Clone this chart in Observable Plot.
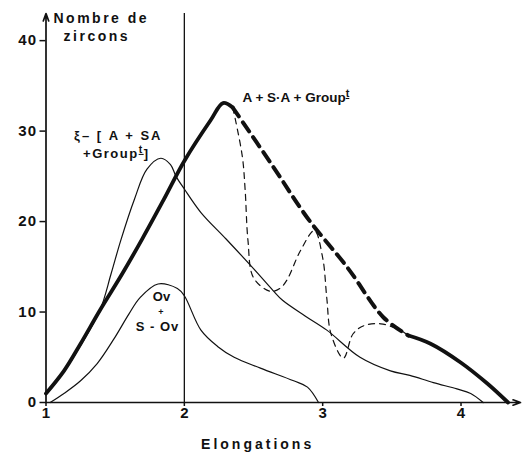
<!DOCTYPE html>
<html><head><meta charset="utf-8">
<script src="https://cdn.jsdelivr.net/npm/d3@7"></script>
<script src="https://cdn.jsdelivr.net/npm/@observablehq/plot@0.6"></script>
<style>
html,body{margin:0;padding:0;background:#fff}
#chart svg text{font-family:"Liberation Sans",Arial,Helvetica,sans-serif;font-weight:bold}
g.sp25 text{letter-spacing:2.5px}
g.sp2 text{letter-spacing:2px}
g.sp15 text{letter-spacing:1.5px}
g.sp1 text{letter-spacing:1px}
g.sp3 text{letter-spacing:3px}
</style></head><body><div id="chart"></div>
<script>
// ---- data ----
const xTicks = [1, 2, 3, 4];
const yTicks = [0, 10, 20, 30, 40];

// A + S·A + Group^t : rising solid part
const totalRiseX = [1.0, 1.13, 1.25, 1.39, 1.55, 1.70, 1.85, 2.0, 2.19, 2.28, 2.35];
const totalRiseY = [1.0, 3.5, 6.5, 10.2, 14.2, 18.2, 22.4, 26.7, 31.2, 33.1, 32.6];
// A + S·A + Group^t : thick dashed part
const totalDashX = [2.35, 2.645, 2.89, 3.18, 3.44, 3.62];
const totalDashY = [32.6, 26.0, 20.4, 14.9, 9.4, 7.4];
// A + S·A + Group^t : solid tail
const totalTailX = [3.62, 3.78, 4.0, 4.19, 4.34];
const totalTailY = [7.4, 6.5, 4.4, 2.1, 0];
// thin dashed alternative
const altDashX = [2.35, 2.37, 2.42, 2.44, 2.46, 2.50, 2.62, 2.69, 2.74, 2.84, 2.94, 3.0, 3.03, 3.06, 3.15, 3.22, 3.30, 3.42, 3.56, 3.62];
const altDashY = [32.6, 31.2, 27.1, 23.4, 17.9, 13.8, 12.3, 12.6, 13.5, 16.8, 19.0, 16.0, 11.5, 7.6, 4.9, 7.6, 8.5, 8.7, 8.0, 7.4];
// Σ – [A+SA+Group^t]
const sigmaX = [1.0, 1.13, 1.25, 1.39, 1.47, 1.54, 1.64, 1.73, 1.83, 1.9, 1.94, 2.0, 2.12, 2.30, 2.5, 2.64, 2.71, 2.87, 3.03, 3.27, 3.49, 3.63, 3.80, 3.97, 4.07, 4.16];
const sigmaY = [1.0, 3.4, 6.3, 10.2, 14.2, 17.9, 22.5, 25.8, 27.0, 26.3, 25.0, 23.6, 21.0, 18.1, 14.8, 12.4, 11.3, 9.6, 8.0, 5.0, 3.5, 3.0, 2.2, 1.5, 1.0, 0];
// Ov + S-Ov
const ovX = [1.03, 1.13, 1.25, 1.37, 1.49, 1.60, 1.68, 1.81, 1.95, 2.0, 2.12, 2.24, 2.36, 2.55, 2.79, 2.89, 2.97];
const ovY = [0, 1.0, 2.4, 4.3, 7.0, 9.8, 11.6, 13.1, 12.6, 11.8, 8.0, 6.2, 5.0, 3.8, 2.4, 1.7, 0];

const xDomain = [1, 4.43];
const yDomain = [0, 43];

const rows = (xs, ys) => xs.map((x, i) => ({x, y: ys[i]}));
const ink = "#111";

const chart = Plot.plot({
  width: 524, height: 455,
  marginLeft: 45.5, marginRight: 4, marginTop: 13, marginBottom: 53,
  x: {domain: xDomain, axis: null},
  y: {domain: yDomain, axis: null},
  style: {background: "white", color: ink, fontFamily: "Liberation Sans, Arial, sans-serif"},
  marks: [
    Plot.axisY(yTicks, {anchor: "left", tickSize: 6, tickPadding: 3, fontSize: 15, fontWeight: "bold", strokeWidth: 1.5, label: null, tickFormat: d3.format("d"), className: "sp1"}),
    Plot.axisX(xTicks, {anchor: "bottom", tickSize: 4, tickPadding: 1, fontSize: 15, fontWeight: "bold", strokeWidth: 1.5, label: null, tickFormat: d3.format("d")}),
    Plot.ruleX([2], {y1: yDomain[0], y2: yDomain[1], stroke: ink, strokeWidth: 1.3}),
    Plot.arrow([{x1: xDomain[0], y1: 0, x2: xDomain[0], y2: yDomain[1]}], {x1: "x1", y1: "y1", x2: "x2", y2: "y2", stroke: ink, strokeWidth: 1.7, headLength: 7, headAngle: 40}),
    Plot.arrow([{x1: xDomain[0], y1: 0, x2: xDomain[1], y2: 0}], {x1: "x1", y1: "y1", x2: "x2", y2: "y2", stroke: ink, strokeWidth: 1.7, headLength: 7, headAngle: 40}),
    Plot.line(rows(ovX, ovY), {x: "x", y: "y", curve: "catmull-rom", stroke: ink, strokeWidth: 1.2}),
    Plot.line(rows(sigmaX, sigmaY), {x: "x", y: "y", curve: "catmull-rom", stroke: ink, strokeWidth: 1.2}),
    Plot.line(rows(altDashX, altDashY), {x: "x", y: "y", curve: "catmull-rom", stroke: ink, strokeWidth: 1.2, strokeDasharray: "6,5"}),
    Plot.line(rows(totalDashX, totalDashY), {x: "x", y: "y", curve: "catmull-rom", stroke: ink, strokeWidth: 4, strokeDasharray: "11,7"}),
    Plot.line(rows(totalRiseX, totalRiseY), {x: "x", y: "y", curve: "catmull-rom", stroke: ink, strokeWidth: 3.8, strokeLinecap: "round"}),
    Plot.line(rows(totalTailX, totalTailY), {x: "x", y: "y", curve: "catmull-rom", stroke: ink, strokeWidth: 3.8}),
    // texts
    Plot.text(["Nombre de"], {x: 1.054, y: 42.45, textAnchor: "start", fontSize: 14, fill: ink, className: "sp25"}),
    Plot.text(["zircons"], {x: 1.127, y: 40.45, textAnchor: "start", fontSize: 14, fill: ink, className: "sp25"}),
    Plot.text(["A + S·A + Group|t"], {x: 2.42, y: 33.7, textAnchor: "start", fontSize: 13.5, fill: ink, className: "sup"}),
    Plot.text(["ξ– [ A + SA"], {x: 1.842, y: 29.5, textAnchor: "end", fontSize: 13, fill: ink, className: "sp2"}),
    Plot.text(["+Group|t|]"], {x: 1.748, y: 27.5, textAnchor: "end", fontSize: 13, fill: ink, className: "sup sp15"}),
    Plot.text(["Ov"], {x: 1.835, y: 11.65, fontSize: 13, fill: ink}),
    Plot.text(["+"], {x: 1.83, y: 10.0, fontSize: 9, fill: ink}),
    Plot.text(["S - Ov"], {x: 1.806, y: 8.4, fontSize: 13, fill: ink, className: "sp1"}),
    Plot.text(["Elongations"], {x: 2.53, y: -4.64, fontSize: 14, fill: ink, className: "sp3"})
  ]
});

d3.select(chart).selectAll("g.sup text").each(function () {
  const parts = this.textContent.split("|");
  const sel = d3.select(this);
  sel.text(null);
  sel.append("tspan").text(parts[0]);
  if (parts[1] !== undefined) sel.append("tspan").attr("dy", -5).attr("font-size", "0.8em").attr("text-decoration", "underline").text(parts[1]);
  if (parts[2] !== undefined) sel.append("tspan").attr("dy", 5).text(parts[2]);
});

document.getElementById("chart").appendChild(chart);
</script></body></html>
